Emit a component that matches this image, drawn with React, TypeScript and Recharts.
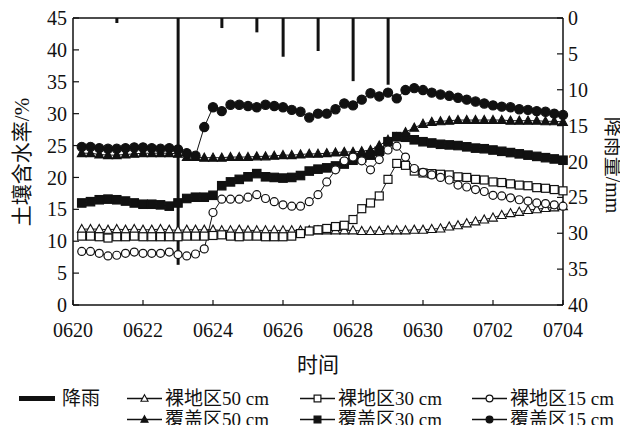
import React from 'react';
import { ComposedChart, Line, Bar, XAxis, YAxis, ReferenceLine } from 'recharts';

// x categories: observation slots (4 per day), tick labels every 2 days
const xTickPositions = [0, 8, 16, 24, 32, 40, 48, 56];
const xTickLabels = ['0620', '0622', '0624', '0626', '0628', '0630', '0702', '0704'];
const leftTicks = [0, 5, 10, 15, 20, 25, 30, 35, 40, 45];
const rightTicks = [0, 5, 10, 15, 20, 25, 30, 35, 40];

// rainfall (mm) at observation slots
const rainSlot = [5, 12, 17, 21, 24, 28, 32, 36];
const rainMm = [0.7, 34.4, 1.4, 2.0, 5.4, 4.6, 8.8, 9.3];

// soil moisture (%) for slots 1..56
const bare50 = [
  11.9, 11.9, 11.9, 11.8, 11.9, 11.8, 11.9, 11.8, 11.8, 11.9, 11.8, 11.7, 11.8, 11.8,
  11.8, 11.8, 11.7, 11.7, 11.8, 11.7, 11.7, 11.7, 11.7, 11.7, 11.7, 11.7, 11.7, 11.7,
  11.7, 11.7, 11.7, 11.7, 11.6, 11.6, 11.6, 11.7, 11.7, 11.7, 11.8, 11.8, 11.9, 12.0,
  12.3, 12.5, 12.8, 13.1, 13.4, 13.7, 14.1, 14.4, 14.6, 14.9, 15.0, 15.2, 15.3, 15.5,
];
const bare30 = [
  10.8, 10.8, 10.7, 10.5, 10.7, 10.7, 10.8, 10.7, 10.7, 10.7, 10.7, 10.7, 10.8, 10.8,
  10.8, 10.9, 11.0, 10.8, 10.7, 10.8, 10.8, 10.7, 10.7, 10.7, 10.8, 11.2, 11.6, 11.8,
  12.0, 12.3, 12.5, 13.4, 15.1, 16.0, 17.1, 19.7, 22.2, 21.9, 21.0, 20.7, 20.6, 20.5,
  20.4, 20.1, 20.0, 19.7, 19.6, 19.3, 19.2, 19.0, 18.8, 18.7, 18.4, 18.3, 18.1, 17.9,
];
const bare15 = [
  8.4, 8.4, 8.1, 7.7, 7.8, 8.1, 8.3, 8.1, 8.1, 8.1, 8.3, 7.9, 7.7, 8.0,
  8.8, 14.5, 16.6, 16.6, 16.6, 16.9, 17.3, 16.7, 16.2, 15.7, 15.5, 15.5, 16.2, 17.3,
  19.3, 21.2, 22.6, 23.2, 22.6, 21.2, 22.8, 24.3, 24.9, 23.2, 21.4, 20.8, 20.4, 20.0,
  19.6, 18.8, 18.5, 18.1, 17.8, 17.2, 17.1, 16.8, 16.5, 16.3, 16.0, 15.9, 15.7, 15.5,
];
const cover50 = [
  23.8, 23.8, 23.6, 23.5, 23.5, 23.6, 23.7, 23.8, 23.8, 23.8, 23.8, 23.7, 23.2, 23.2,
  23.1, 23.1, 23.1, 23.2, 23.2, 23.2, 23.3, 23.3, 23.4, 23.5, 23.5, 23.6, 23.7, 23.7,
  23.8, 23.9, 24.0, 24.0, 24.1, 24.3, 25.0, 25.9, 26.3, 27.1, 27.8, 28.4, 28.7, 28.8,
  28.9, 29.0, 29.0, 29.0, 29.0, 29.0, 29.0, 28.9, 28.9, 28.9, 28.9, 28.8, 28.8, 28.7,
];
const cover30 = [
  16.0, 16.2, 16.5, 16.6, 16.5, 16.3, 16.0, 15.8, 15.8, 15.7, 15.5, 16.0, 16.7, 16.9,
  16.9, 17.2, 18.7, 19.3, 19.7, 20.1, 20.6, 20.1, 20.0, 19.9, 20.0, 20.3, 21.0, 21.3,
  21.5, 21.8, 22.1, 22.7, 23.1, 23.5, 24.1, 25.6, 26.4, 26.3, 25.9, 25.6, 25.4, 25.2,
  25.1, 25.0, 24.8, 24.6, 24.5, 24.3, 24.1, 23.9, 23.7, 23.5, 23.3, 23.1, 22.9, 22.7,
];
const cover15 = [
  24.8, 24.8, 24.6, 24.5, 24.5, 24.6, 24.7, 24.7, 24.6, 24.5, 24.6, 24.4, 23.8, 23.4,
  27.9, 31.0, 30.4, 31.4, 31.4, 31.2, 31.0, 31.4, 31.2, 31.0, 30.6, 30.3, 29.4, 30.0,
  30.0, 30.7, 31.6, 31.3, 32.2, 33.2, 32.7, 33.3, 32.4, 33.7, 34.0, 33.7, 33.3, 33.0,
  32.8, 32.5, 32.2, 31.9, 31.6, 31.3, 31.1, 31.0, 30.7, 30.6, 30.4, 30.3, 30.0, 29.8,
];

const rows = Array.from({ length: 57 }, (_, t) => {
  const r: any = { t };
  if (t >= 1) {
    r.bare50 = bare50[t - 1];
    r.bare30 = bare30[t - 1];
    r.bare15 = bare15[t - 1];
    r.cover50 = cover50[t - 1];
    r.cover30 = cover30[t - 1];
    r.cover15 = cover15[t - 1];
  }
  const k = rainSlot.indexOf(t);
  if (k >= 0) r.rain = rainMm[k];
  return r;
});

const INK = '#111';
const SERIF = '"Liberation Serif", "Noto Sans CJK SC", serif';

type ShapeKind = 'circle' | 'square' | 'triangle';

function Marker({ kind, filled, cx, cy, s }: { kind: ShapeKind; filled: boolean; cx: number; cy: number; s: number }) {
  const fill = filled ? INK : '#fff';
  if (kind === 'circle') return <circle cx={cx} cy={cy} r={s} fill={fill} stroke={INK} strokeWidth={1.2} />;
  if (kind === 'square')
    return <rect x={cx - s} y={cy - s} width={2 * s} height={2 * s} fill={fill} stroke={INK} strokeWidth={1.2} />;
  const h = s * 1.1;
  return (
    <polygon
      points={`${cx},${cy - h} ${cx + s * 1.05},${cy + h * 0.75} ${cx - s * 1.05},${cy + h * 0.75}`}
      fill={fill}
      stroke={INK}
      strokeWidth={1.1}
      strokeLinejoin="miter"
    />
  );
}

const makeDot = (kind: ShapeKind, filled: boolean, s: number) => (props: any) => {
  const { cx, cy, index } = props;
  if (cx == null || cy == null || Number.isNaN(cx) || Number.isNaN(cy)) return <g key={`e${index}`} />;
  return (
    <g key={`d${index}`}>
      <Marker kind={kind} filled={filled} cx={cx} cy={cy} s={s} />
    </g>
  );
};

const series: { key: string; label: string; kind: ShapeKind; filled: boolean; s: number }[] = [
  { key: 'cover30', label: '覆盖区30 cm', kind: 'square', filled: true, s: 4.2 },
  { key: 'cover50', label: '覆盖区50 cm', kind: 'triangle', filled: true, s: 4.2 },
  { key: 'cover15', label: '覆盖区15 cm', kind: 'circle', filled: true, s: 4.6 },
  { key: 'bare50', label: '裸地区50 cm', kind: 'triangle', filled: false, s: 4.2 },
  { key: 'bare30', label: '裸地区30 cm', kind: 'square', filled: false, s: 4 },
  { key: 'bare15', label: '裸地区15 cm', kind: 'circle', filled: false, s: 4 },
];

function LegendItem({ x, y, kind, filled, label }: { x: number; y: number; kind: ShapeKind; filled: boolean; label: string }) {
  return (
    <g>
      <line x1={x} y1={y} x2={x + 35} y2={y} stroke={INK} strokeWidth={1.3} />
      <Marker kind={kind} filled={filled} cx={x + 17.5} cy={y} s={3.4} />
      <text x={x + 38} y={y + 6.5} fontSize={19} fill={INK} fontFamily={SERIF}>
        {label}
      </text>
    </g>
  );
}

export default function App() {
  const tick = { fill: INK, fontSize: 20, fontFamily: SERIF };
  return (
    <div style={{ margin: -8, position: 'relative', width: 628, height: 433, background: '#fff' }}>
      <ComposedChart width={628} height={433} data={rows} margin={{ top: 18, right: 20, bottom: 98, left: 28 }}>
        <XAxis
          dataKey="t"
          type="number"
          domain={[0, 56]}
          ticks={xTickPositions}
          interval={0}
          tickFormatter={(v: number) => xTickLabels[xTickPositions.indexOf(v)] ?? ''}
          height={30}
          tick={tick}
          tickSize={-5}
          tickMargin={23}
          axisLine={{ stroke: INK, strokeWidth: 1.5 }}
          tickLine={{ stroke: INK, strokeWidth: 1.2 }}
        />
        <YAxis
          yAxisId="left"
          domain={[0, 45]}
          ticks={leftTicks}
          interval={0}
          width={45}
          tick={tick}
          tickSize={-6}
          tickMargin={12}
          axisLine={{ stroke: INK, strokeWidth: 1.5 }}
          tickLine={{ stroke: INK, strokeWidth: 1.2 }}
        />
        <YAxis
          yAxisId="right"
          orientation="right"
          domain={[0, 40]}
          ticks={rightTicks}
          interval={0}
          reversed
          width={45}
          tick={tick}
          tickSize={-6}
          tickMargin={11}
          axisLine={{ stroke: INK, strokeWidth: 1.5 }}
          tickLine={{ stroke: INK, strokeWidth: 1.2 }}
        />
        <ReferenceLine yAxisId="left" y={45} stroke={INK} strokeWidth={1.5} ifOverflow="visible" />
        {series.map((s) => (
          <Line
            key={s.key}
            yAxisId="left"
            dataKey={s.key}
            type="linear"
            stroke={INK}
            strokeWidth={1}
            dot={makeDot(s.kind, s.filled, s.s)}
            activeDot={false}
            isAnimationActive={false}
          />
        ))}
        <Bar yAxisId="right" dataKey="rain" fill={INK} barSize={3} isAnimationActive={false} />
      </ComposedChart>
      <svg width={628} height={433} style={{ position: 'absolute', left: 0, top: 0, pointerEvents: 'none' }}>
        <text
          x={22}
          y={162}
          transform="rotate(-90 22 162)"
          textAnchor="middle"
          dominantBaseline="central"
          fontSize={21}
          fill={INK}
          fontFamily={SERIF}
        >
          土壤含水率/%
        </text>
        <text
          x={613}
          y={165}
          transform="rotate(90 613 165)"
          textAnchor="middle"
          dominantBaseline="central"
          fontSize={20}
          fill={INK}
          fontFamily={SERIF}
        >
          降雨量/mm
        </text>
        <text x={318} y={365} textAnchor="middle" dominantBaseline="central" fontSize={21} fill={INK} fontFamily={SERIF}>
          时间
        </text>
        <rect x={19} y={396} width={36} height={5} fill={INK} />
        <text x={62} y={405} fontSize={19} fill={INK} fontFamily={SERIF}>
          降雨
        </text>
        <LegendItem x={127} y={398.5} kind="triangle" filled={false} label="裸地区50 cm" />
        <LegendItem x={300} y={398.5} kind="square" filled={false} label="裸地区30 cm" />
        <LegendItem x={472} y={398.5} kind="circle" filled={false} label="裸地区15 cm" />
        <LegendItem x={127} y={419.5} kind="triangle" filled label="覆盖区50 cm" />
        <LegendItem x={300} y={419.5} kind="square" filled label="覆盖区30 cm" />
        <LegendItem x={472} y={419.5} kind="circle" filled label="覆盖区15 cm" />
      </svg>
    </div>
  );
}
